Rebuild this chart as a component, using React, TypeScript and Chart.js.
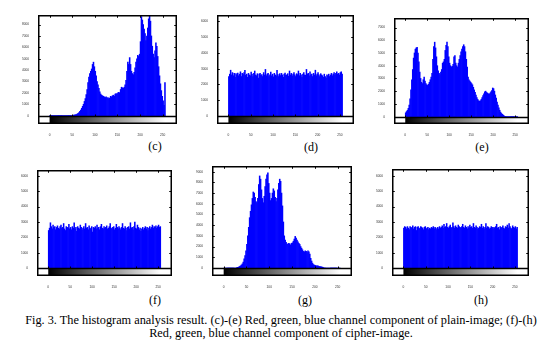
import React, { useEffect, useRef } from 'react';
import { Chart, registerables } from 'chart.js';

Chart.register(...registerables);

// Histogram bins: 128 bins, each covering two grey levels (centre = 2i+1)
const binCentres: number[] = Array.from({ length: 128 }, (_, i) => 2 * i + 1);
const xTickValues = [0, 50, 100, 150, 200, 250];

// (c) red channel, plain image
const redPlain = [
  0, 0, 0, 0, 0, 0, 0, 0, 0, 0, 0, 0, 0, 0, 0, 0,
  0, 0, 0, 0, 0, 0, 0, 0, 0, 30, 50, 60, 80, 100, 150, 200,
  280, 380, 500, 650, 820, 1000, 1250, 1500, 1850, 2300, 2900, 3400, 3700, 3900, 4100, 4500,
  4700, 4300, 3900, 3500, 3000, 2700, 2400, 2100, 1900, 1800, 1750, 1700, 1650, 1600, 1650, 1550,
  1600, 1500, 1550, 1700, 1650, 1750, 1800, 1700, 1900, 1950, 1900, 2000, 2050, 2000, 2300, 2500,
  2450, 2400, 2500, 2700, 3100, 3900, 4700, 4500, 5100, 4500, 3900, 3700, 3600, 3800, 4200, 4700,
  5000, 5300, 5200, 5400, 6500, 8700, 8400, 8000, 7600, 7200, 6600, 7000, 7700, 8500, 8850, 8300,
  7000, 6100, 5400, 5100, 5700, 6400, 6100, 5200, 4300, 3500, 2800, 2200, 1700, 1300, 900, 2900,
];

// (d) green channel, plain image (as shown)
const greenPlain = [
  2500, 2650, 2900, 2600, 2750, 2550, 2700, 2450, 2680, 2600, 2720, 2550, 2650, 2800, 2500, 2700,
  2620, 2750, 2900, 2580, 2650, 2450, 2700, 2600, 2550, 2780, 2650, 2500, 2700, 2850, 2600, 2550,
  2680, 2400, 2650, 2700, 2580, 2620, 2500, 2750, 2600, 2950, 2550, 2650, 2700, 2500, 2600, 2780,
  2550, 2650, 2480, 2700, 2600, 2550, 2900, 2620, 2500, 2680, 2560, 2700, 2600, 2450, 2650, 2720,
  2580, 2600, 2680, 2520, 2850, 2600, 2700, 2550, 2650, 2750, 2600, 2500, 2680, 2620, 2850, 2550,
  2700, 2600, 2450, 2650, 2750, 2600, 2580, 2950, 2650, 2700, 2550, 2800, 2600, 2650, 2500, 2700,
  2600, 2900, 2550, 2650, 2750, 2600, 2500, 2680, 2600, 2550, 2450, 2650, 2500, 2400, 2600, 2550,
  2650, 2500, 2600, 2700, 2550, 2650, 2750, 2600, 2700, 2800, 2650, 2700, 2600, 2750, 2800, 2650,
];

// (e) blue channel, plain image
const bluePlain = [
  300, 400, 500, 650, 900, 1400, 2100, 2900, 3700, 4600, 5000, 5300, 5400, 5450, 5000, 4300,
  3500, 3000, 2700, 2600, 2900, 3100, 2800, 2600, 2500, 2450, 2550, 2700, 2900, 3100, 3400, 4500,
  5500, 5850, 5400, 4700, 4000, 3600, 3400, 3300, 3500, 3700, 4200, 4300, 4500, 5200, 5600, 5850,
  5500, 4700, 4200, 4000, 3900, 3950, 4100, 4700, 4800, 4200, 4000, 3900, 4200, 4500, 4800, 5100,
  5300, 5500, 5650, 5500, 5100, 4500, 3900, 3100, 2900, 2800, 2700, 2600, 2500, 2300, 2100, 1900,
  1700, 1500, 1350, 1250, 1200, 1250, 1350, 1500, 1650, 1800, 1950, 2000, 1900, 1850, 1800, 1750,
  1850, 1950, 2050, 2250, 2200, 2000, 1700, 1450, 1150, 900, 700, 500, 350, 250, 180, 120,
  60, 30, 0, 0, 0, 0, 0, 0, 0, 0, 0, 0, 0, 0, 0, 0,
];

// (f) red channel, cipher image
const redCipher = [
  2450, 2600, 2950, 2700, 2550, 2800, 2650, 2700, 2500, 2650, 2750, 2600, 2550, 2700, 2800, 2600,
  2650, 2900, 2550, 2450, 2700, 2650, 2600, 2850, 2550, 2650, 2500, 2700, 2600, 2950, 2550, 2650,
  2400, 2700, 2600, 2550, 2800, 2650, 2500, 2600, 2700, 2550, 2900, 2600, 2650, 2500, 2750, 2600,
  2550, 2700, 2350, 2650, 2600, 2700, 2550, 2800, 2600, 2650, 2500, 2700, 2850, 2600, 2550, 2700,
  2600, 2650, 2750, 2550, 2600, 2700, 2900, 2600, 2550, 2650, 2700, 2500, 2600, 2850, 2650, 2550,
  2700, 2600, 2500, 2650, 2900, 2600, 2550, 2700, 2600, 2450, 2650, 2700, 2550, 2950, 2600, 2650,
  2500, 2700, 3000, 2600, 2550, 2800, 2650, 2500, 2600, 2400, 2550, 2650, 2500, 2600, 2700, 2550,
  2650, 2450, 2600, 2700, 2550, 2650, 2800, 2600, 2700, 2650, 2750, 2600, 2700, 2800, 2650, 2700,
];

// (g) green channel, cipher image (as shown)
const greenCipher = [
  0, 0, 0, 0, 0, 0, 0, 0, 0, 0, 0, 0, 0, 0, 30, 60,
  90, 140, 200, 280, 380, 550, 850, 1150, 1600, 2200, 3000, 3800, 4700, 5300, 5900, 6500,
  7100, 7000, 6600, 6200, 6100, 6500, 7800, 8600, 8300, 7300, 6500, 6100, 6700, 7600, 8300, 8700,
  8900, 7900, 7000, 6300, 6500, 7000, 7400, 7200, 6600, 6200, 6500, 7300, 7900, 8300, 8100, 7000,
  5800, 4300, 3000, 2600, 2400, 2250, 2200, 2300, 2250, 2150, 2300, 2350, 2500, 2700, 2950, 2800,
  2600, 2450, 2300, 2200, 2000, 1850, 1700, 1550, 1500, 1600, 1550, 1450, 1600, 1500, 1300, 900,
  650, 450, 320, 270, 240, 210, 200, 190, 160, 140, 120, 100, 70, 40, 0, 0,
  0, 0, 0, 0, 0, 0, 0, 0, 0, 0, 0, 0, 0, 0, 0, 0,
];

// (h) blue channel, cipher image
const blueCipher = [
  2600, 2700, 2650, 2550, 2700, 2600, 2500, 2700, 2650, 2600, 2750, 2550, 2650, 2700, 2450, 2650,
  2700, 2600, 2550, 2700, 2650, 2600, 2500, 2650, 2700, 2550, 2600, 2650, 2500, 2600, 2550, 2650,
  2600, 2700, 2550, 2650, 2600, 2500, 2650, 2550, 2700, 2600, 2650, 2750, 2600, 2850, 2650, 2700,
  2900, 2650, 2600, 2700, 2800, 2600, 2650, 2950, 2700, 2600, 2750, 2650, 2600, 2800, 2700, 2650,
  2600, 2700, 2850, 2650, 2600, 2750, 2650, 2550, 2700, 2600, 2800, 2650, 2700, 2600, 2900, 2650,
  2600, 2750, 2650, 2550, 2600, 2700, 2650, 2850, 2600, 2700, 2550, 2650, 2900, 2600, 2700, 2650,
  2550, 2600, 2700, 2650, 2550, 2650, 2600, 2700, 2850, 2600, 2650, 2500, 2700, 2600, 2650, 2750,
  2600, 2550, 2700, 2650, 2800, 2600, 2900, 2700, 2600, 2550, 2750, 2650, 2600, 2700, 2550, 2650,
];

// y tick labels for each panel
const yTicksC = [0, 1000, 2000, 3000, 4000, 5000, 6000, 7000, 8000];
const yTicksD = [0, 1000, 2000, 3000, 4000, 5000, 6000];
const yTicksE = [0, 1000, 2000, 3000, 4000, 5000, 6000, 7000];
const yTicksF = [0, 1000, 2000, 3000, 4000, 5000, 6000];
const yTicksG = [0, 1000, 2000, 3000, 4000, 5000, 6000, 7000, 8000, 9000];
const yTicksH = [0, 1000, 2000, 3000, 4000, 5000, 6000];

const panelLabels = ['(c)', '(d)', '(e)', '(f)', '(g)', '(h)'];
const captionLine1 =
  'Fig. 3. The histogram analysis result. (c)-(e) Red, green, blue channel component of plain-image; (f)-(h)';
const captionLine2 = 'Red, green, blue channel component of cipher-image.';

// Axis limits (y) for each panel
const yLimits: [number, number][] = [
  [-730, 8840],
  [-510, 6400],
  [-580, 7750],
  [-500, 6370],
  [-750, 9530],
  [-500, 6430],
];

const seriesList = [redPlain, greenPlain, bluePlain, redCipher, greenCipher, blueCipher];
const yTickList = [yTicksC, yTicksD, yTicksE, yTicksF, yTicksG, yTicksH];

// Layout (page pixels): frame left, top, right, bottom; caption centre
const frames = [
  { l: 38, t: 15, r: 177, b: 124, cx: 155, cy: 146 },
  { l: 217, t: 15, r: 354, b: 124, cx: 311, cy: 147 },
  { l: 394, t: 18, r: 529, b: 124, cx: 482, cy: 147 },
  { l: 37, t: 170, r: 172, b: 276, cx: 155, cy: 300 },
  { l: 212, t: 166, r: 352, b: 276, cx: 305, cy: 300 },
  { l: 392, t: 169, r: 529, b: 276, cx: 481, cy: 300 },
];

const Y_AXIS_W = 20;
const X_AXIS_H = 12;
const PAD_T = 4;
const PAD_R = 6;

const framePlugin = {
  id: 'matlabFrame',
  beforeDatasetsDraw(chart: any) {
    const { ctx, chartArea, scales } = chart;
    const x = scales.x;
    const y = scales.y;
    const y0 = y.getPixelForValue(0);
    const x0 = x.getPixelForValue(0);
    const x1 = x.getPixelForValue(256);
    const g = ctx.createLinearGradient(x0, 0, x1, 0);
    g.addColorStop(0, '#000000');
    g.addColorStop(1, '#ffffff');
    ctx.save();
    ctx.fillStyle = g;
    ctx.fillRect(x0, y0, x1 - x0, chartArea.bottom - y0);
    ctx.restore();
  },
  afterDatasetsDraw(chart: any) {
    const { ctx, chartArea, scales } = chart;
    const x = scales.x;
    const y = scales.y;
    const y0 = Math.round(y.getPixelForValue(0)) + 0.5;
    const L = Math.round(chartArea.left) + 0.75;
    const R = Math.round(chartArea.right) - 0.75;
    const T = Math.round(chartArea.top) + 0.75;
    const B = Math.round(chartArea.bottom) - 0.75;
    ctx.save();
    ctx.strokeStyle = '#000';
    ctx.lineWidth = 1;
    ctx.beginPath();
    xTickValues.forEach((v) => {
      const px = Math.round(x.getPixelForValue(v)) + 0.5;
      ctx.moveTo(px, T);
      ctx.lineTo(px, T + 2);
      ctx.moveTo(px, y0);
      ctx.lineTo(px, y0 - 2);
    });
    y.ticks.forEach((tk: any) => {
      if (tk.value < 0) return;
      const py = Math.round(y.getPixelForValue(tk.value)) + 0.5;
      ctx.moveTo(L, py);
      ctx.lineTo(L + 2, py);
      ctx.moveTo(R, py);
      ctx.lineTo(R - 2, py);
    });
    ctx.stroke();
    ctx.lineWidth = 1.5;
    ctx.beginPath();
    ctx.rect(L, T, R - L, B - T);
    ctx.moveTo(L, y0);
    ctx.lineTo(R, y0);
    ctx.stroke();
    ctx.restore();
  },
};

function HistPanel({
  values,
  limits,
  yTicks,
  frame,
}: {
  values: number[];
  limits: [number, number];
  yTicks: number[];
  frame: any;
}) {
  const ref = useRef<HTMLCanvasElement | null>(null);
  useEffect(() => {
    if (!ref.current) return;
    const chart = new Chart(ref.current, {
      type: 'bar',
      data: {
        datasets: [
          {
            data: binCentres.map((c, i) => ({ x: c, y: values[i] })),
            backgroundColor: '#0000ff',
            borderWidth: 0,
            barPercentage: 1,
            categoryPercentage: 1,
          },
        ],
      },
      options: {
        animation: false,
        responsive: false,
        events: [],
        layout: { padding: { top: PAD_T, right: PAD_R, left: 0, bottom: 0 } },
        plugins: { legend: { display: false }, tooltip: { enabled: false } },
        scales: {
          x: {
            type: 'linear',
            min: 0,
            max: 256,
            grid: { display: false },
            border: { display: false },
            afterBuildTicks: (s: any) => {
              s.ticks = xTickValues.map((v) => ({ value: v }));
            },
            afterFit: (s: any) => {
              s.height = X_AXIS_H;
            },
            ticks: {
              maxRotation: 0,
              autoSkip: false,
              padding: 1,
              color: '#333',
              font: { size: 3.2, family: 'Liberation Sans' },
              callback: (v: any) => String(v),
            },
          },
          y: {
            type: 'linear',
            min: limits[0],
            max: limits[1],
            grid: { display: false },
            border: { display: false },
            afterBuildTicks: (s: any) => {
              s.ticks = yTicks.map((v) => ({ value: v }));
            },
            afterFit: (s: any) => {
              s.width = Y_AXIS_W;
            },
            ticks: {
              autoSkip: false,
              padding: 1,
              color: '#333',
              font: { size: 3.2, family: 'Liberation Sans' },
              callback: (v: any) => String(v),
            },
          },
        },
      },
      plugins: [framePlugin],
    });
    return () => chart.destroy();
  }, [values, limits, yTicks]);
  const w = frame.r - frame.l + Y_AXIS_W + PAD_R;
  const h = frame.b - frame.t + PAD_T + X_AXIS_H;
  return (
    <canvas
      ref={ref}
      width={w}
      height={h}
      style={{ position: 'absolute', left: frame.l - Y_AXIS_W, top: frame.t - PAD_T, width: w, height: h }}
    />
  );
}

export default function App() {
  return (
    <div
      style={{
        position: 'absolute',
        left: 0,
        top: 0,
        width: 560,
        height: 358,
        background: '#fff',
        fontFamily: '"Liberation Serif", "Times New Roman", serif',
        color: '#000',
      }}
    >
      {seriesList.map((s, i) => (
        <HistPanel key={i} values={s} limits={yLimits[i]} yTicks={yTickList[i]} frame={frames[i]} />
      ))}
      {panelLabels.map((lab, i) => (
        <div
          key={lab}
          style={{
            position: 'absolute',
            left: frames[i].cx,
            top: frames[i].cy,
            transform: 'translate(-50%, -50%)',
            fontSize: 12,
            lineHeight: '12px',
            whiteSpace: 'nowrap',
          }}
        >
          {lab}
        </div>
      ))}
      <div
        style={{
          position: 'absolute',
          left: 0,
          width: 562,
          top: 314,
          textAlign: 'center',
          fontSize: 12.3,
          lineHeight: '12.5px',
          whiteSpace: 'nowrap',
        }}
      >
        <div>{captionLine1}</div>
        <div>{captionLine2}</div>
      </div>
    </div>
  );
}
